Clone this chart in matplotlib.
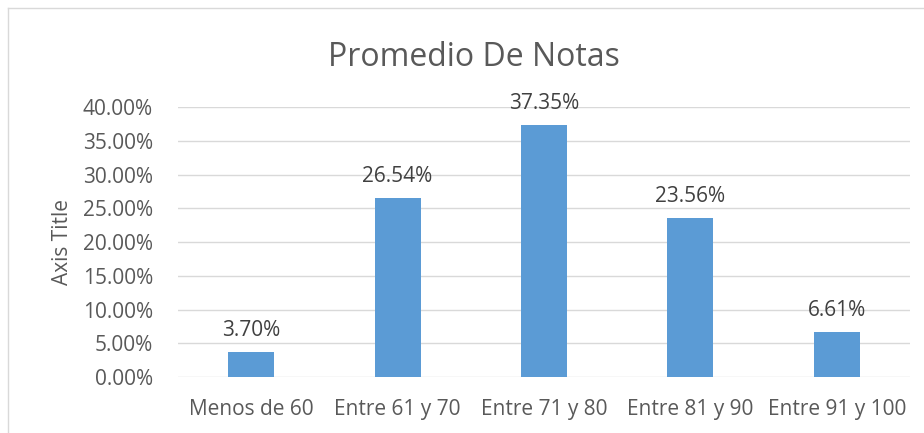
import matplotlib.pyplot as plt
from matplotlib.lines import Line2D
from matplotlib.ticker import PercentFormatter

categorias = ['Menos de 60', 'Entre 61 y 70', 'Entre 71 y 80', 'Entre 81 y 90', 'Entre 91 y 100']
porcentajes = [3.70, 26.54, 37.35, 23.56, 6.61]
yticks = [0, 5, 10, 15, 20, 25, 30, 35, 40]

gris = '#595959'
plt.rcParams['font.family'] = ['Open Sans', 'DejaVu Sans']

fig = plt.figure(figsize=(9.24, 4.33), dpi=100)
ax = fig.add_axes([178/924, 1-377/433, (910-178)/924, (377-107)/433])

x = range(len(categorias))
ax.bar(x, porcentajes, width=0.315, color='#5B9BD5', zorder=3)
for i, v in enumerate(porcentajes):
    ax.annotate('%.2f%%' % v, (i, v), xytext=(0, 8), textcoords='offset points',
                ha='center', va='bottom', fontsize=15, color='#404040')

ax.set_xlim(-0.5, len(categorias) - 0.5)
ax.set_ylim(0, 40)
ax.set_yticks(yticks)
ax.yaxis.set_major_formatter(PercentFormatter(decimals=2))
ax.set_xticks(list(x))
ax.set_xticklabels(categorias)
ax.grid(axis='y', color='#D9D9D9', linewidth=1, zorder=0)
for s in ax.spines.values():
    s.set_visible(False)
ax.tick_params(length=0, labelsize=15, labelcolor=gris)
ax.tick_params(axis='y', pad=18)
ax.tick_params(axis='x', pad=16)
ax.set_ylabel('Axis Title', fontsize=15, color=gris, labelpad=7)
fig.text(474/924, 1-57/433, 'Promedio De Notas', ha='center', va='center',
         fontsize=23, color=gris)

# borde del grafico
fig.add_artist(Line2D([8/924, 8/924], [0, 1-8/433], color='#D9D9D9', lw=1))
fig.add_artist(Line2D([8/924, 1], [1-8/433, 1-8/433], color='#D9D9D9', lw=1))

fig.savefig('out.png', dpi=100)
